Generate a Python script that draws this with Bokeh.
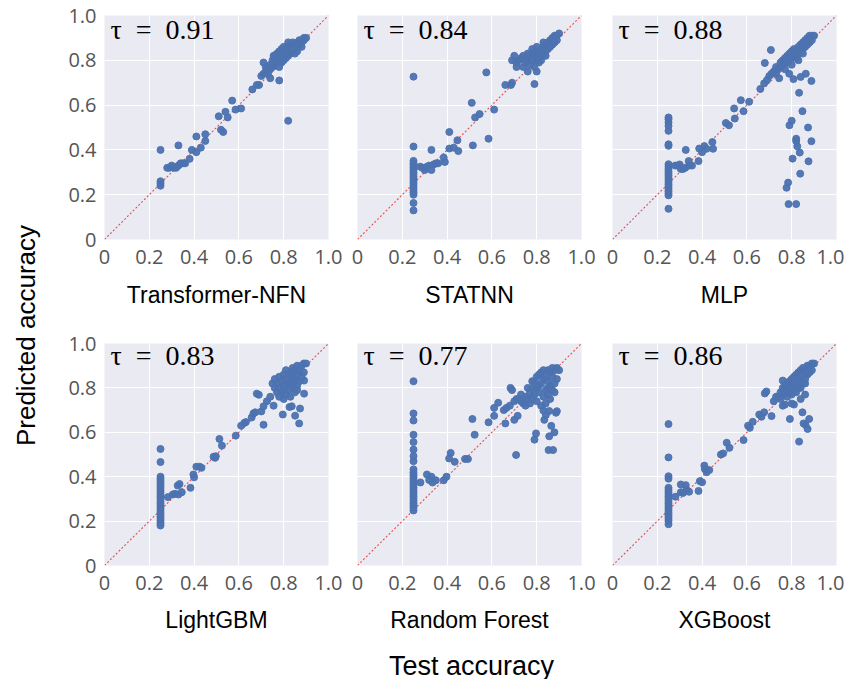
import math
from bokeh.plotting import figure
from bokeh.layouts import row, column
from bokeh.models import Range1d, FixedTicker, Label
from bokeh.core.properties import value
from bokeh.embed import file_html
from bokeh.resources import INLINE

MODELS = ["Transformer-NFN", "STATNN", "MLP", "LightGBM", "Random Forest", "XGBoost"]
TAUS = [0.91, 0.84, 0.88, 0.83, 0.77, 0.86]
TICKS = [0, 0.2, 0.4, 0.6, 0.8, 1.0]
TICK_LABELS = ["0", "0.2", "0.4", "0.6", "0.8", "1.0"]
DIAG = [0.0, 1.0]
X_TITLE = "Test accuracy"
Y_TITLE = "Predicted accuracy"

# ---------------- Transformer-NFN ----------------
TNFN_X = [0.25, 0.25, 0.25, 0.25, 0.28, 0.29, 0.30, 0.31, 0.32, 0.33, 0.34, 0.35, 0.36,
          0.33, 0.38, 0.39, 0.41, 0.43, 0.41, 0.45, 0.45, 0.51, 0.52, 0.53, 0.54, 0.55,
          0.57, 0.585, 0.61, 0.66, 0.68, 0.69, 0.71, 0.74, 0.78, 0.82, 0.755,
          0.70, 0.71, 0.72, 0.72, 0.73, 0.73, 0.74, 0.74, 0.75, 0.75, 0.76, 0.76, 0.76,
          0.77, 0.77, 0.78, 0.78, 0.78, 0.79, 0.79, 0.79, 0.80, 0.80, 0.80, 0.81, 0.81,
          0.81, 0.82, 0.82, 0.82, 0.83, 0.83, 0.83, 0.84, 0.84, 0.84, 0.85, 0.85, 0.85,
          0.86, 0.86, 0.86, 0.87, 0.87, 0.88, 0.88, 0.89, 0.89, 0.90, 0.80, 0.82, 0.84,
          0.78, 0.86]
TNFN_Y = [0.40, 0.26, 0.25, 0.24, 0.32, 0.32, 0.33, 0.32, 0.32, 0.33, 0.34, 0.34, 0.34,
          0.42, 0.36, 0.40, 0.39, 0.41, 0.46, 0.44, 0.47, 0.55, 0.49, 0.48, 0.57, 0.545,
          0.62, 0.58, 0.585, 0.67, 0.69, 0.69, 0.79, 0.72, 0.71, 0.53, 0.82,
          0.73, 0.74, 0.75, 0.77, 0.74, 0.76, 0.76, 0.78, 0.77, 0.80, 0.78, 0.81, 0.82,
          0.79, 0.83, 0.80, 0.82, 0.84, 0.79, 0.81, 0.85, 0.82, 0.84, 0.80, 0.83, 0.85,
          0.81, 0.84, 0.86, 0.82, 0.85, 0.83, 0.87, 0.84, 0.86, 0.88, 0.85, 0.87, 0.83,
          0.86, 0.88, 0.84, 0.87, 0.89, 0.88, 0.86, 0.89, 0.90, 0.90, 0.86, 0.88, 0.85,
          0.77, 0.87]

# ---------------- STATNN ----------------
STATNN_X = [0.25] * 20 + [
    0.28, 0.29, 0.30, 0.31, 0.32, 0.33, 0.34, 0.35, 0.36, 0.33, 0.385, 0.39, 0.41, 0.41,
    0.43, 0.446, 0.45, 0.51, 0.515, 0.525, 0.545, 0.585, 0.61, 0.575, 0.66, 0.685, 0.69,
    0.79,
    0.69, 0.70, 0.71, 0.71, 0.72, 0.73, 0.74, 0.74, 0.75, 0.75, 0.76, 0.76, 0.77, 0.77,
    0.78, 0.78, 0.79, 0.79, 0.80, 0.80, 0.80, 0.81, 0.81, 0.82, 0.82, 0.82, 0.83, 0.83,
    0.84, 0.84, 0.85, 0.85, 0.86, 0.86, 0.87, 0.87, 0.88, 0.88, 0.89, 0.89, 0.90, 0.78,
    0.80, 0.83, 0.76, 0.84]
STATNN_Y = [0.727, 0.415, 0.351, 0.34, 0.33, 0.32, 0.31, 0.30, 0.29, 0.28, 0.27, 0.26,
            0.25, 0.24, 0.23, 0.22, 0.21, 0.20, 0.163, 0.13,
            0.325, 0.32, 0.31, 0.325, 0.33, 0.31, 0.335, 0.34, 0.34, 0.40, 0.366, 0.346,
            0.406, 0.48, 0.41, 0.443, 0.395, 0.61, 0.42, 0.545, 0.56, 0.45, 0.58, 0.746,
            0.69, 0.69, 0.70, 0.694,
            0.80, 0.82, 0.77, 0.79, 0.80, 0.81, 0.77, 0.82, 0.79, 0.81, 0.75, 0.80, 0.78,
            0.82, 0.80, 0.83, 0.77, 0.82, 0.75, 0.80, 0.84, 0.79, 0.83, 0.80, 0.85, 0.82,
            0.83, 0.86, 0.82, 0.87, 0.85, 0.88, 0.86, 0.89, 0.87, 0.90, 0.88, 0.91, 0.89,
            0.91, 0.92, 0.85, 0.86, 0.88, 0.83, 0.84]

# ---------------- MLP ----------------
MLP_X = [0.25] * 23 + [
    0.28, 0.29, 0.30, 0.305, 0.315, 0.325, 0.34, 0.343, 0.355, 0.327, 0.384, 0.387, 0.40,
    0.41, 0.42, 0.446, 0.449, 0.506, 0.52, 0.543, 0.546, 0.573, 0.585, 0.61, 0.66, 0.677,
    0.69, 0.68, 0.707,
    0.744, 0.789, 0.808, 0.84, 0.863, 0.888, 0.833, 0.848, 0.79, 0.80, 0.873, 0.82, 0.82,
    0.825, 0.888, 0.836, 0.804, 0.875, 0.838, 0.784, 0.777, 0.786, 0.82,
    0.70, 0.71, 0.72, 0.73, 0.73, 0.74, 0.75, 0.75, 0.76, 0.76, 0.77, 0.77, 0.78, 0.78,
    0.79, 0.79, 0.80, 0.80, 0.81, 0.81, 0.82, 0.82, 0.83, 0.83, 0.84, 0.84, 0.85, 0.85,
    0.86, 0.86, 0.87, 0.87, 0.88, 0.88, 0.89, 0.89, 0.90, 0.80, 0.83, 0.85, 0.77]
MLP_Y = [0.545, 0.536, 0.522, 0.507, 0.485, 0.425, 0.418, 0.336, 0.325, 0.315, 0.305,
         0.295, 0.285, 0.275, 0.265, 0.255, 0.245, 0.235, 0.225, 0.215, 0.205, 0.197, 0.137,
         0.33, 0.33, 0.335, 0.315, 0.315, 0.32, 0.35, 0.33, 0.33, 0.40, 0.35, 0.406, 0.39,
         0.417, 0.405, 0.435, 0.405, 0.52, 0.51, 0.585, 0.54, 0.622, 0.573, 0.615, 0.672,
         0.697, 0.712, 0.788, 0.846,
         0.72, 0.74, 0.716, 0.726, 0.74, 0.708, 0.655, 0.573, 0.51, 0.53, 0.50, 0.45, 0.44,
         0.416, 0.439, 0.388, 0.361, 0.349, 0.294, 0.254, 0.231, 0.158, 0.158,
         0.73, 0.74, 0.75, 0.74, 0.77, 0.76, 0.77, 0.79, 0.78, 0.80, 0.79, 0.81, 0.79, 0.82,
         0.80, 0.83, 0.81, 0.84, 0.82, 0.85, 0.81, 0.84, 0.83, 0.86, 0.84, 0.87, 0.85, 0.88,
         0.86, 0.89, 0.87, 0.90, 0.88, 0.91, 0.89, 0.91, 0.91, 0.78, 0.80, 0.83, 0.76]

# ---------------- LightGBM ----------------
LGBM_X = [0.25] * 25 + [
    0.283, 0.305, 0.315, 0.327, 0.335, 0.33, 0.345, 0.384, 0.397, 0.40, 0.41, 0.425, 0.433,
    0.487, 0.494, 0.497, 0.513, 0.524, 0.586, 0.61, 0.624, 0.631, 0.657, 0.665, 0.673, 0.68,
    0.689, 0.71, 0.70, 0.71, 0.725, 0.755, 0.796, 0.826, 0.836, 0.851, 0.869, 0.873, 0.891,
    0.891,
    0.74, 0.75, 0.76, 0.76, 0.77, 0.77, 0.78, 0.78, 0.78, 0.79, 0.79, 0.80, 0.80, 0.80,
    0.81, 0.81, 0.81, 0.82, 0.82, 0.82, 0.83, 0.83, 0.83, 0.84, 0.84, 0.84, 0.85, 0.85,
    0.85, 0.86, 0.86, 0.86, 0.87, 0.87, 0.88, 0.88, 0.89, 0.89, 0.90, 0.80, 0.84, 0.86,
    0.83]
LGBM_Y = [0.525, 0.466, 0.40, 0.39, 0.38, 0.37, 0.36, 0.35, 0.34, 0.33, 0.32, 0.31, 0.30,
          0.29, 0.28, 0.27, 0.26, 0.25, 0.24, 0.23, 0.22, 0.21, 0.20, 0.19, 0.18,
          0.308, 0.32, 0.323, 0.36, 0.367, 0.32, 0.33, 0.35, 0.41, 0.397, 0.445, 0.445, 0.44,
          0.49, 0.485, 0.492, 0.57, 0.54, 0.585, 0.63, 0.642, 0.646, 0.667, 0.685, 0.69,
          0.774, 0.769, 0.634, 0.694, 0.717, 0.74, 0.72, 0.68, 0.714, 0.717, 0.675, 0.64,
          0.707, 0.774, 0.833,
          0.76, 0.82, 0.80, 0.84, 0.78, 0.82, 0.76, 0.80, 0.85, 0.78, 0.83, 0.75, 0.81, 0.86,
          0.77, 0.84, 0.88, 0.79, 0.82, 0.86, 0.76, 0.83, 0.87, 0.80, 0.85, 0.89, 0.78, 0.84,
          0.88, 0.81, 0.86, 0.90, 0.83, 0.88, 0.85, 0.90, 0.87, 0.91, 0.91, 0.79, 0.82, 0.79,
          0.81]

# ---------------- Random Forest ----------------
RF_X = [0.25] * 27 + [
    0.281, 0.31, 0.32, 0.33, 0.335, 0.35, 0.385, 0.397, 0.409, 0.416, 0.434, 0.48, 0.493,
    0.513, 0.523, 0.585, 0.61, 0.61, 0.628, 0.653, 0.66, 0.665, 0.68, 0.683, 0.69, 0.70,
    0.715, 0.708, 0.79, 0.797, 0.834, 0.841, 0.856, 0.865, 0.856, 0.879, 0.853, 0.873,
    0.886, 0.89, 0.83,
    0.72, 0.73, 0.74, 0.75, 0.75, 0.76, 0.77, 0.77, 0.78, 0.78, 0.79, 0.79, 0.80, 0.80,
    0.80, 0.81, 0.81, 0.82, 0.82, 0.82, 0.83, 0.83, 0.83, 0.84, 0.84, 0.84, 0.85, 0.85,
    0.85, 0.86, 0.86, 0.86, 0.87, 0.87, 0.87, 0.88, 0.88, 0.89, 0.89, 0.90, 0.78, 0.81,
    0.85, 0.76, 0.88, 0.70, 0.71, 0.73]
RF_Y = [0.83, 0.685, 0.653, 0.589, 0.556, 0.522, 0.493, 0.470, 0.433, 0.42, 0.41, 0.40,
        0.39, 0.38, 0.37, 0.36, 0.35, 0.34, 0.33, 0.32, 0.31, 0.30, 0.29, 0.28, 0.27, 0.26,
        0.248,
        0.374, 0.41, 0.385, 0.40, 0.374, 0.384, 0.384, 0.40, 0.482, 0.507, 0.467, 0.48,
        0.48, 0.66, 0.589, 0.645, 0.674, 0.71, 0.733, 0.70, 0.64, 0.71, 0.72, 0.80, 0.79,
        0.656, 0.674, 0.498, 0.567, 0.595, 0.656, 0.678, 0.696, 0.629, 0.582, 0.60, 0.52,
        0.52, 0.688, 0.695, 0.698,
        0.75, 0.74, 0.73, 0.76, 0.72, 0.75, 0.78, 0.73, 0.80, 0.75, 0.77, 0.83, 0.74, 0.80,
        0.85, 0.78, 0.86, 0.72, 0.82, 0.87, 0.76, 0.84, 0.88, 0.79, 0.85, 0.73, 0.77, 0.83,
        0.88, 0.75, 0.81, 0.87, 0.79, 0.85, 0.89, 0.82, 0.88, 0.84, 0.89, 0.88, 0.83, 0.81,
        0.80, 0.80, 0.78, 0.74, 0.75, 0.77]

# ---------------- XGBoost ----------------
XGB_X = [0.25] * 21 + [
    0.281, 0.305, 0.305, 0.315, 0.327, 0.33, 0.342, 0.384, 0.39, 0.40, 0.41, 0.412, 0.42,
    0.432, 0.484, 0.494, 0.51, 0.522, 0.585, 0.605, 0.613, 0.626, 0.655, 0.665, 0.677,
    0.71, 0.68, 0.687, 0.76, 0.76, 0.77, 0.80, 0.792, 0.81, 0.848, 0.853, 0.862, 0.878,
    0.871, 0.833, 0.84, 0.86,
    0.72, 0.73, 0.74, 0.75, 0.75, 0.76, 0.76, 0.77, 0.77, 0.78, 0.78, 0.79, 0.79, 0.80,
    0.80, 0.81, 0.81, 0.81, 0.82, 0.82, 0.83, 0.83, 0.83, 0.84, 0.84, 0.85, 0.85, 0.85,
    0.86, 0.86, 0.87, 0.87, 0.88, 0.88, 0.89, 0.89, 0.90, 0.80, 0.82, 0.84, 0.86, 0.78]
XGB_Y = [0.637, 0.487, 0.402, 0.391, 0.35, 0.34, 0.33, 0.32, 0.31, 0.30, 0.29, 0.28, 0.27,
         0.26, 0.25, 0.24, 0.23, 0.22, 0.21, 0.20, 0.186,
         0.31, 0.365, 0.33, 0.327, 0.362, 0.342, 0.332, 0.336, 0.38, 0.375, 0.45, 0.435,
         0.42, 0.43, 0.50, 0.505, 0.553, 0.53, 0.565, 0.63, 0.62, 0.647, 0.68, 0.67, 0.69,
         0.673, 0.775, 0.784, 0.833, 0.72, 0.725, 0.73, 0.66, 0.725, 0.69, 0.64, 0.633,
         0.66, 0.615, 0.558, 0.75, 0.77,
         0.74, 0.76, 0.76, 0.75, 0.78, 0.77, 0.80, 0.78, 0.81, 0.79, 0.82, 0.78, 0.83, 0.80,
         0.84, 0.79, 0.82, 0.85, 0.81, 0.86, 0.80, 0.84, 0.87, 0.83, 0.88, 0.82, 0.86, 0.89,
         0.84, 0.88, 0.86, 0.90, 0.87, 0.90, 0.88, 0.91, 0.91, 0.77, 0.78, 0.80, 0.82, 0.76]

SERIES = [(TNFN_X, TNFN_Y), (STATNN_X, STATNN_Y), (MLP_X, MLP_Y),
          (LGBM_X, LGBM_Y), (RF_X, RF_Y), (XGB_X, XGB_Y)]

BG = "#EAEAF2"
DOT = "#4C72B0"
DIAG_COLOR = "#E05050"
TICK_COLOR = "#555555"

FRAME = 224
WIDTHS = [294, 254, 248]
BORDERS_LR = [(56, 14), (15, 15), (16, 8)]
TOP_TB = (15, 89)
BOT_TB = (15, 68)


def make_panel(i, top_row):
    col = i % 3
    bl, br = BORDERS_LR[col]
    bt, bb = TOP_TB if top_row else BOT_TB
    h = bt + FRAME + bb
    p = figure(width=WIDTHS[col], height=h,
               x_range=Range1d(0, 1), y_range=Range1d(0, 1),
               output_backend="svg", toolbar_location=None,
               min_border_left=bl, min_border_right=br,
               min_border_top=bt, min_border_bottom=bb)
    p.background_fill_color = BG
    p.border_fill_color = "white"
    p.outline_line_color = None
    overrides = {t: lab for t, lab in zip(TICKS, TICK_LABELS)}
    for ax in (p.xaxis[0], p.yaxis[0]):
        ax.ticker = FixedTicker(ticks=TICKS)
        ax.major_label_overrides = overrides
        ax.axis_line_color = None
        ax.major_tick_line_color = None
        ax.minor_tick_line_color = None
        ax.major_tick_out = 0
        ax.major_tick_in = 0
        ax.major_label_text_font = "Open Sans"
        ax.major_label_text_font_size = "20px"
        ax.major_label_text_color = TICK_COLOR
        ax.major_label_standoff = 8
    p.xaxis.major_label_standoff = 10
    p.xaxis.axis_label = MODELS[i]
    p.xaxis.axis_label_text_font = "Liberation Sans"
    p.xaxis.axis_label_text_font_style = "normal"
    p.xaxis.axis_label_text_font_size = "23px"
    p.xaxis.axis_label_text_color = "black"
    p.xaxis.axis_label_standoff = 15 if top_row else 14
    if col != 0:
        p.yaxis.visible = False
    for g in (p.xgrid[0], p.ygrid[0]):
        g.ticker = FixedTicker(ticks=TICKS)
        g.grid_line_color = "white"
        g.grid_line_width = 1
    p.line(DIAG, DIAG, line_color=DIAG_COLOR, line_width=1.1, line_dash="2 2")
    xs, ys = SERIES[i]
    p.scatter(xs, ys, size=7, fill_color=DOT, line_color=DOT, fill_alpha=0.95, line_alpha=0.95)
    p.add_layout(Label(x=6, y=FRAME - 14, x_units="screen", y_units="screen",
                       text="\u03c4\u2002=\u2002%.2f" % TAUS[i],
                       text_font="Liberation Serif", text_font_size="28px",
                       text_color="black", text_baseline="alphabetic"))
    return p


panels = [make_panel(i, i < 3) for i in range(6)]
top = row(*panels[:3], spacing=0)
bottom = row(*panels[3:], spacing=0)

GRID_W = sum(WIDTHS)
TOP_H = TOP_TB[0] + FRAME + TOP_TB[1]
BOT_H = BOT_TB[0] + FRAME + BOT_TB[1]

xlab_h = 44
xlab = figure(width=GRID_W, height=xlab_h, x_range=Range1d(0, GRID_W),
              y_range=Range1d(0, xlab_h), output_backend="svg", toolbar_location=None,
              min_border=0)
xlab.axis.visible = False
xlab.grid.visible = False
xlab.outline_line_color = None
xlab.background_fill_color = "white"

ylab_w = 48
xlab.text(x=[471 - ylab_w], y=[xlab_h - 30], text=[X_TITLE], text_font=value("Liberation Sans"),
          text_font_size="27px", text_align="center", text_baseline="middle",
          text_color="black")

ylab_h = TOP_H + BOT_H + xlab_h
ylab = figure(width=ylab_w, height=ylab_h, x_range=Range1d(0, ylab_w),
              y_range=Range1d(0, ylab_h), output_backend="svg", toolbar_location=None,
              min_border=0)
ylab.axis.visible = False
ylab.grid.visible = False
ylab.outline_line_color = None
ylab.background_fill_color = "white"
ylab.text(x=[25], y=[ylab_h - 335], text=[Y_TITLE], text_font=value("Liberation Sans"),
          text_font_size="26px", text_align="center", text_baseline="middle",
          angle=math.pi / 2, text_color="black")

layout = row(ylab, column(top, bottom, xlab, spacing=0), spacing=0)

open("out.html", "w").write(file_html(layout, INLINE))
